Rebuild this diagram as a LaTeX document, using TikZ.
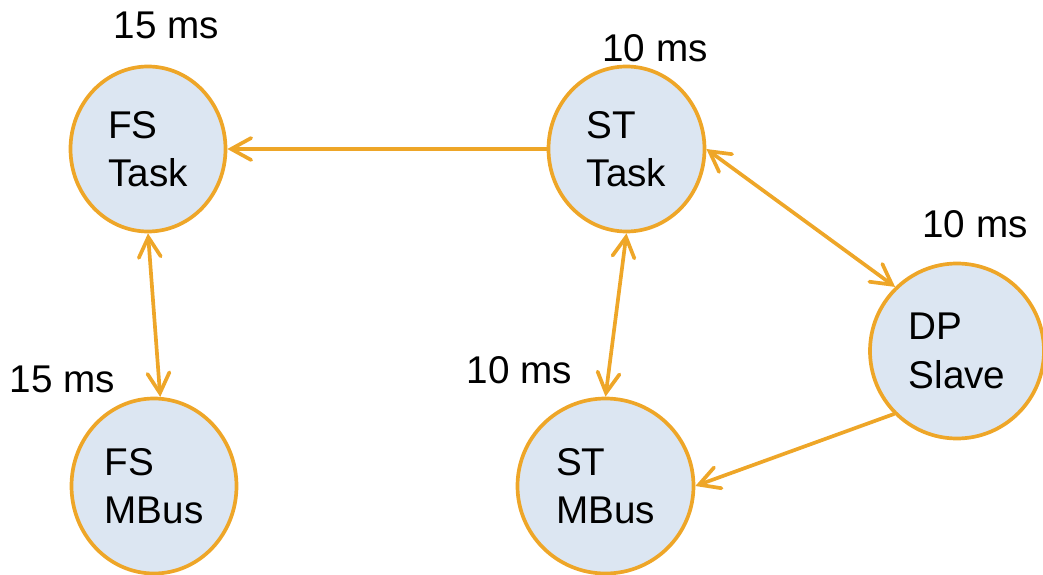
\documentclass[tikz,border=0pt]{standalone}
\usepackage{fontspec}
\setmainfont{Liberation Sans}
\usepackage{tikz}
\usetikzlibrary{positioning,shapes.geometric,arrows.meta}
\definecolor{arrorange}{RGB}{238,166,40}
\definecolor{nodefill}{RGB}{220,230,242}

\begin{document}
\begin{tikzpicture}[
        proc/.style={draw=arrorange, fill=nodefill, ellipse, line width=2.1pt, inner sep=0pt,
            align=left, font=\fontsize{22}{27.5}\selectfont},
        lbl/.style={font=\fontsize{22}{27.5}\selectfont, inner sep=0pt},
        conn/.style={draw=arrorange, line width=2.1pt, line cap=round,
            arrows={-Straight Barb[length=4mm,width=4.4mm,line cap=round]}},
        bothconn/.style={conn, arrows={Straight Barb[length=4mm,width=4.4mm,line cap=round]-Straight Barb[length=4mm,width=4.4mm,line cap=round]}}
    ]
        \useasboundingbox (0,0) rectangle (20.86,11.48);
        \node[proc, minimum width=3.10cm, minimum height=3.30cm] (fst) at (2.96,8.50) {FS\\Task};
        \node[proc, minimum width=3.12cm, minimum height=3.30cm] (stt) at (12.53,8.50) {ST\\Task};
        \node[proc, minimum width=3.48cm, minimum height=3.50cm] (dps) at (19.14,4.46) {DP\\Slave};
        \node[proc, minimum width=3.30cm, minimum height=3.50cm] (fsm) at (3.08,1.76) {FS\\MBus};
        \node[proc, minimum width=3.52cm, minimum height=3.50cm] (stm) at (12.11,1.76) {ST\\MBus};

        \node[lbl] (fsttime) at (3.33,10.97) {15 ms};
        \node[lbl] (stttime) at (13.10,10.51) {10 ms};
        \node[lbl] (dpstime) at (19.50,6.99) {10 ms};
        \node[lbl] (fsmtime) at (1.25,3.90) {15 ms};
        \node[lbl] (stmtime) at (10.39,4.07) {10 ms};

        \draw[conn] (stt.west) -- (fst.east);
        \draw[bothconn] (fst.south) -- (fsm.86);
        \draw[bothconn] (stt.south) -- (stm.north);
        \draw[bothconn] (stt.east) -- (dps.134);
        \draw[conn] (dps.225) -- (stm.east);
    \end{tikzpicture}
\end{document}
